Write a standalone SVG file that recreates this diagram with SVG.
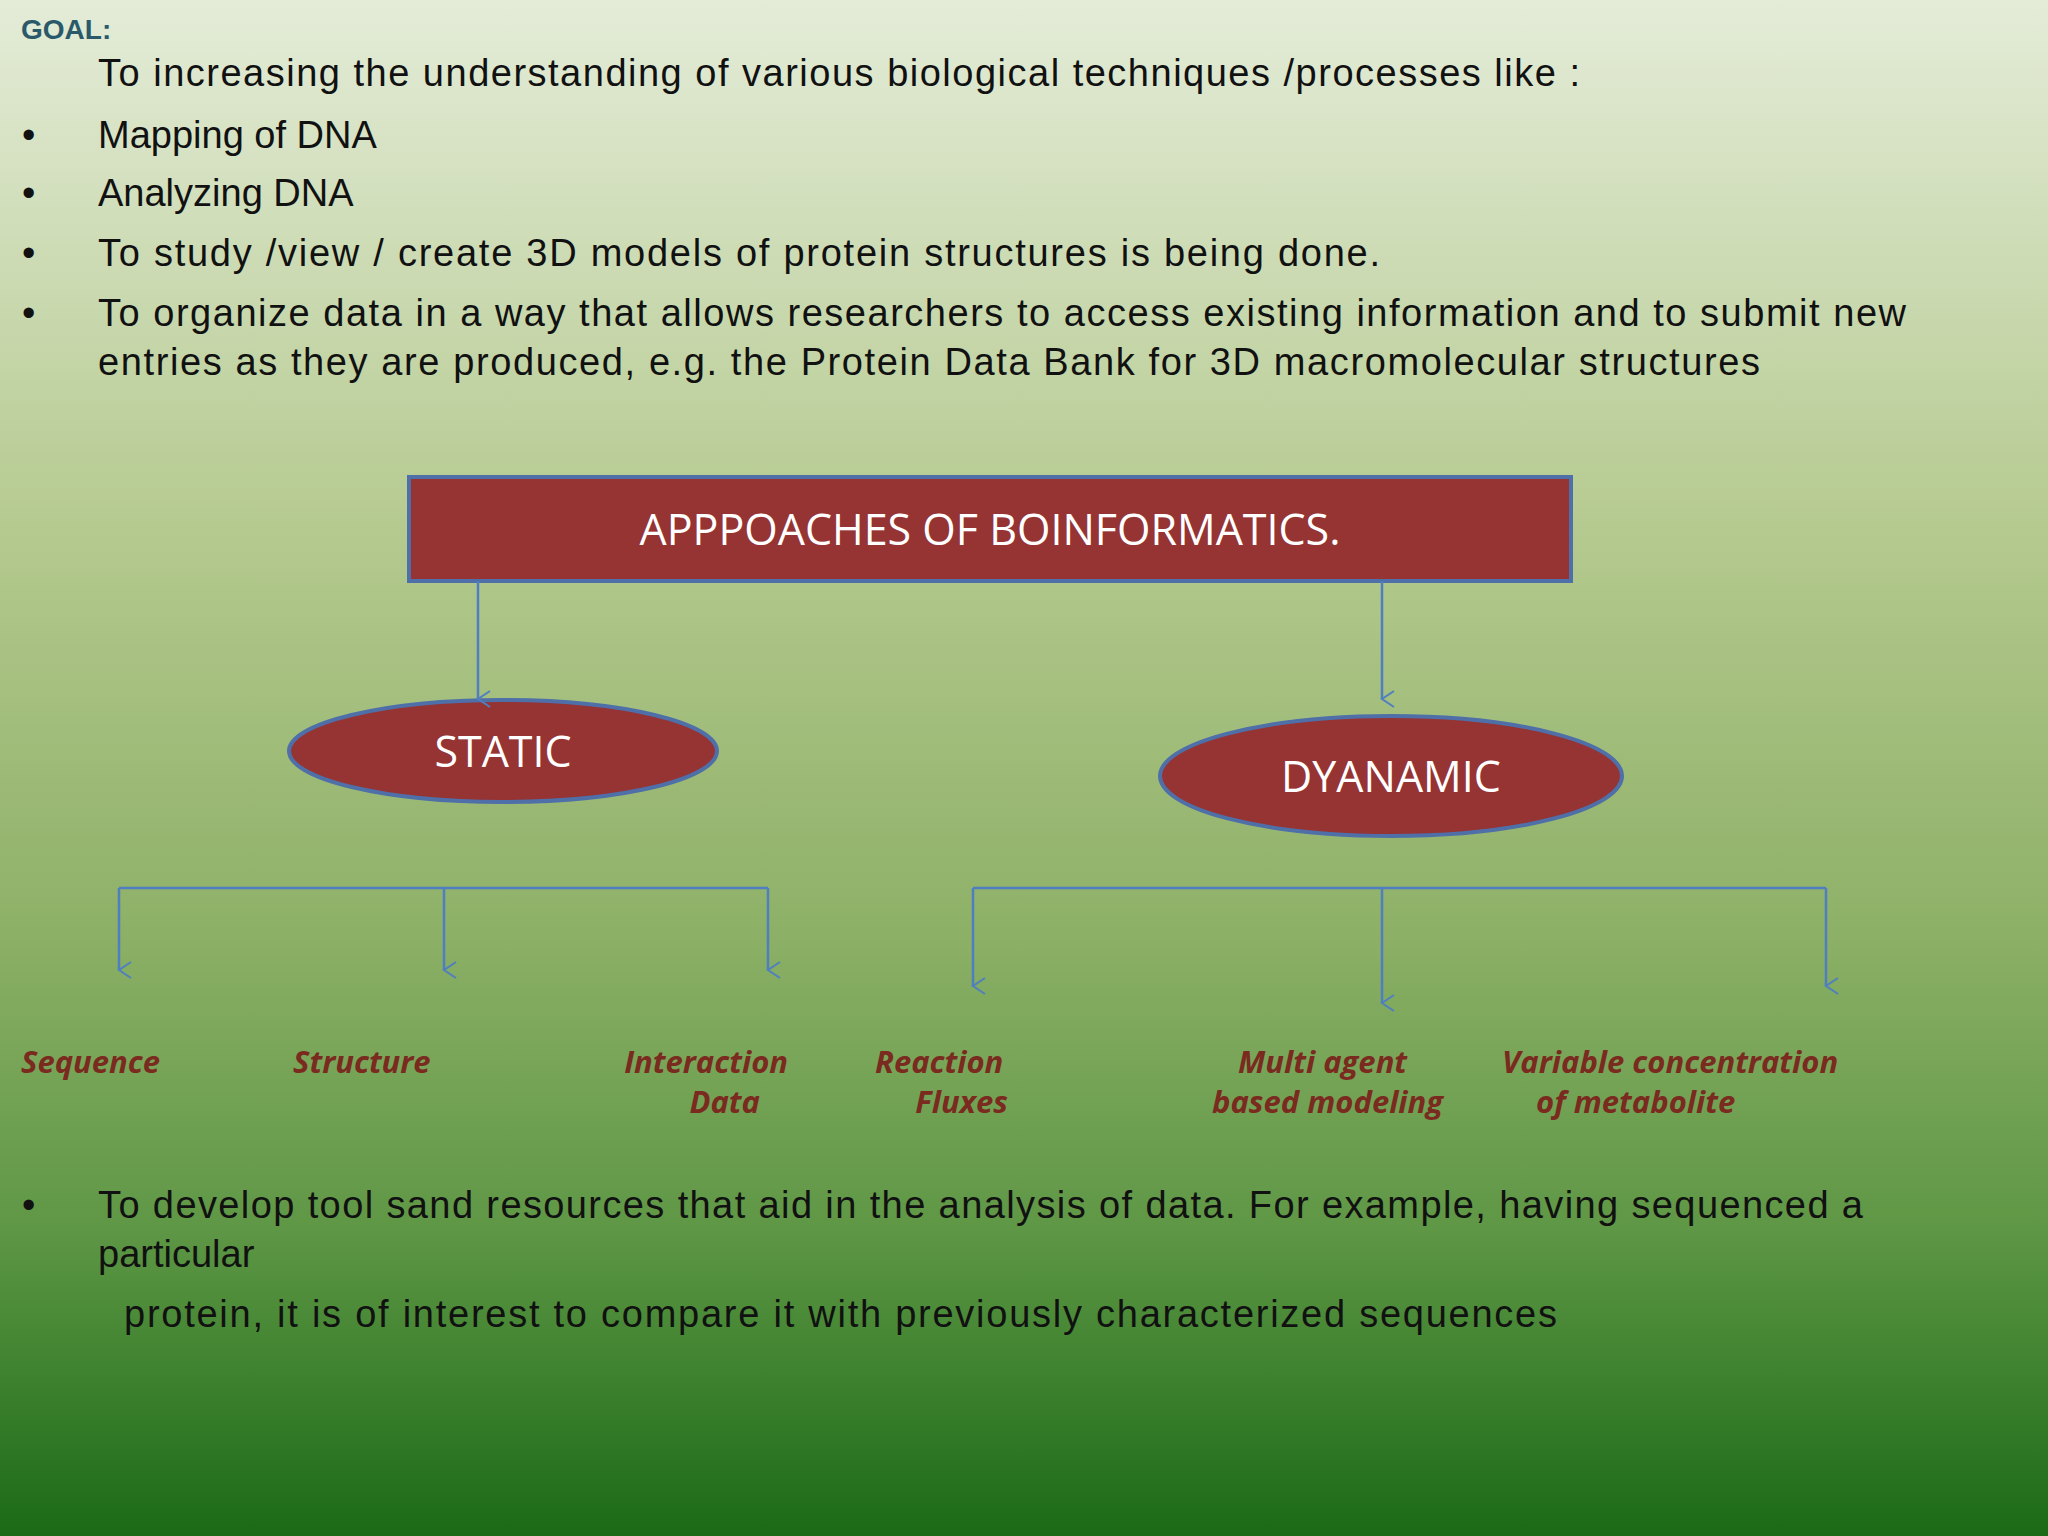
<svg xmlns="http://www.w3.org/2000/svg" width="2048" height="1536" viewBox="0 0 2048 1536">
<defs>
<linearGradient id="bg" x1="0" y1="0" x2="0" y2="1">
<stop offset="0" stop-color="#e4ecd8"/>
<stop offset="0.35" stop-color="#b4c98e"/>
<stop offset="0.6" stop-color="#8eb168"/>
<stop offset="0.8" stop-color="#5e9745"/>
<stop offset="1" stop-color="#1b6a16"/>
</linearGradient>
<marker id="ah" markerWidth="20" markerHeight="20" refX="10" refY="14" orient="auto" markerUnits="userSpaceOnUse" viewBox="0 0 20 20">
<path d="M2,2 L10,14 L18,2" fill="none" stroke="#4f7fc0" stroke-width="2"/>
</marker>
</defs>
<style>
.t{font-family:"Liberation Sans","Open Sans",sans-serif;font-size:38px;fill:#111}
.lab{font-family:"Open Sans","Liberation Sans",sans-serif;font-size:31px;font-weight:bold;font-style:italic;fill:#7a2a1f}
.w{font-family:"Open Sans","Liberation Sans",sans-serif;fill:#fff;text-anchor:middle}
.c{fill:none;stroke:#4f7fc0;stroke-width:2.5}
</style>
<rect width="2048" height="1536" fill="url(#bg)"/>
<text x="21" y="39" font-family="Liberation Sans,sans-serif" font-size="28" font-weight="bold" fill="#2a5a6a">GOAL:</text>
<text class="t" x="98" y="86" textLength="1482">To increasing the understanding of various biological techniques /processes like :</text>
<text class="t" x="22" y="148">•</text><text class="t" x="98" y="148">Mapping of DNA</text>
<text class="t" x="22" y="206">•</text><text class="t" x="98" y="206">Analyzing  DNA</text>
<text class="t" x="22" y="266">•</text><text class="t" x="98" y="266" textLength="1282">To study /view / create 3D models of protein structures is being done.</text>
<text class="t" x="22" y="326">•</text><text class="t" x="98" y="326" textLength="1808">To organize data in a way that allows researchers to access existing information and to submit new</text>
<text class="t" x="98" y="375" textLength="1662">entries as they are produced, e.g. the Protein Data Bank for 3D macromolecular structures</text>
<g id="root"><rect x="409" y="477" width="1162" height="104" fill="#963333" stroke="#4f6fa8" stroke-width="4"/>
<text class="w" x="990" y="545" font-size="43">APPPOACHES OF BOINFORMATICS.</text></g>
<g id="static"><ellipse cx="503" cy="751" rx="214" ry="51" fill="#963333" stroke="#4f6fa8" stroke-width="4"/>
<text class="w" x="503" y="767" font-size="43">STATIC</text></g>
<g id="dynamic"><ellipse cx="1391" cy="776" rx="231" ry="60" fill="#963333" stroke="#4f6fa8" stroke-width="4"/>
<text class="w" x="1391" y="792" font-size="43">DYANAMIC</text></g>
<g id="connectors">
<path class="c" d="M478,581 V699" marker-end="url(#ah)"/>
<path class="c" d="M1382,581 V699" marker-end="url(#ah)"/>
<path class="c" d="M119,888 H768"/>
<path class="c" d="M119,888 V970" marker-end="url(#ah)"/>
<path class="c" d="M444,888 V970" marker-end="url(#ah)"/>
<path class="c" d="M768,888 V970" marker-end="url(#ah)"/>
<path class="c" d="M973,888 H1826"/>
<path class="c" d="M973,888 V986" marker-end="url(#ah)"/>
<path class="c" d="M1382,888 V1003" marker-end="url(#ah)"/>
<path class="c" d="M1826,888 V986" marker-end="url(#ah)"/>
</g>
<g id="labels">
<text class="lab" x="21" y="1073">Sequence</text>
<text class="lab" x="293" y="1073">Structure</text>
<text class="lab" x="788" y="1073" text-anchor="end">Interaction</text>
<text class="lab" x="760" y="1113" text-anchor="end">Data</text>
<text class="lab" x="875" y="1073">Reaction</text>
<text class="lab" x="1008" y="1113" text-anchor="end">Fluxes</text>
<text class="lab" x="1238" y="1073">Multi agent</text>
<text class="lab" x="1212" y="1113">based modeling</text>
<text class="lab" x="1502" y="1073">Variable concentration</text>
<text class="lab" x="1536" y="1113">of metabolite</text>
</g>
<text class="t" x="22" y="1218">•</text><text class="t" x="98" y="1218" textLength="1765">To develop tool sand resources that aid in the analysis of data. For example, having sequenced a</text>
<text class="t" x="98" y="1267">particular</text>
<text class="t" x="124" y="1327" textLength="1433">protein, it is of interest to compare it with previously characterized sequences</text>
</svg>
